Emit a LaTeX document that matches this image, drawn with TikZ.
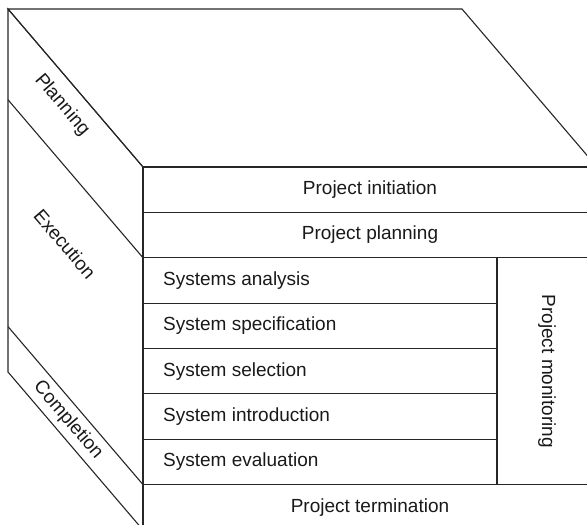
\documentclass[tikz,border=0pt]{standalone}
\usepackage{fontspec}
\setmainfont{Liberation Sans}
\begin{document}
\begin{tikzpicture}[x=1pt,y=-1pt,
  edge/.style={line width=1.1pt,draw=black!85},
  lbl/.style={font=\fontsize{19}{23}\selectfont,inner sep=0pt,text=black!90},
  side/.style={lbl,rotate=-49.5}]
\useasboundingbox (0,0) rectangle (587,525);
\clip (0,0) rectangle (587,525);
% key points
\coordinate (A) at (8,9);
\coordinate (B) at (462,9);
\coordinate (C) at (597,167);
\coordinate (D) at (143,167);
\coordinate (E) at (143,530);
\coordinate (F) at (8,372);
\coordinate (G) at (597,530);
% top face
\draw[edge] (A) -- (B) -- (C) -- (D) -- cycle;
% left face
\draw[edge] (A) -- (D) -- (E) -- (F) -- cycle;
\coordinate (P1) at (8,99.75);
\coordinate (Q1) at (143,257.75);
\coordinate (P2) at (8,326.6);
\coordinate (Q2) at (143,484.6);
\draw[edge] (P1) -- (Q1);
\draw[edge] (P2) -- (Q2);
% front face
\draw[edge] (D) rectangle (G);
\coordinate (M) at (497,257.75);
\coordinate (N) at (497,484.6);
\draw[edge] (143,212.4) -- (597,212.4);
\draw[edge] (Q1) -- (597,257.75);
\draw[edge] (Q2) -- (597,484.6);
\foreach \y in {303.1,348.5,393.9,439.25} \draw[edge] (143,\y) -- (497,\y);
\draw[edge] (M) -- (N);
% texts
\node[lbl] (init) at (370,189.7) {Project initiation};
\node[lbl] (plan) at (370,235) {Project planning};
\node[lbl,anchor=west] (s1) at (163,280.4) {Systems analysis};
\node[lbl,anchor=west] (s2) at (163,325.8) {System specification};
\node[lbl,anchor=west] (s3) at (163,371.2) {System selection};
\node[lbl,anchor=west] (s4) at (163,416.6) {System introduction};
\node[lbl,anchor=west] (s5) at (163,461.9) {System evaluation};
\node[lbl,rotate=-90] (mon) at (547,371.2) {Project monitoring};
\node[lbl] (term) at (370,507.3) {Project termination};
\node[side] (planning) at (62,105) {Planning};
\node[side] (execution) at (65,244) {Execution};
\node[side] (completion) at (68,420) {Completion};
\end{tikzpicture}
\end{document}
